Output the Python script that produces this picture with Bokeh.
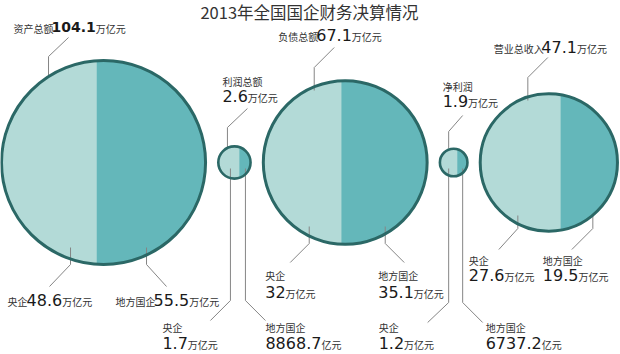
import numpy as np
from bokeh.plotting import figure
from bokeh.models import Range1d, ColumnDataSource
from bokeh.embed import file_html
from bokeh.resources import INLINE
from bokeh.core.properties import value

# ---------------- data ----------------
title_text = "2013年全国国企财务决算情况"
metrics = ["资产总额", "利润总额", "负债总额", "净利润", "营业总收入"]
totals = [104.1, 2.6, 67.1, 1.9, 47.1]          # 万亿元
total_units = ["万亿元", "万亿元", "万亿元", "万亿元", "万亿元"]
central_name = "央企"
local_name = "地方国企"
central_vals = [48.6, 1.7, 32, 1.2, 27.6]
central_units = ["万亿元", "万亿元", "万亿元", "万亿元", "万亿元"]
local_vals = [55.5, 8868.7, 35.1, 6737.2, 19.5]
local_units = ["万亿元", "亿元", "万亿元", "亿元", "万亿元"]

# ---------------- style / layout ----------------
W, H = 620, 354
K = 10.0            # px per sqrt(万亿元) -> area-proportional radii
GAP = 12.75
X0 = 1.0
CY = 162.0
LIGHT = "#b3dad7"
DARK = "#64b7ba"
EDGE = "#2b6866"
LEADER = "#858585"
CJK_FONT = "Noto Sans CJK SC"
NUM_FONT = "DejaVu Sans"
CJK_SIZE = 10.0
NUM_SIZE = 16.0
BOLD_SIZE = 14.0

# label blocks (relative to circle centre): kind, dx, dy line1 baseline, dy line2 baseline
top_layout = [("one", -90, -130, None, True), ("two", -12, -77, -61, False),
              ("one", -67, -122, None, False), ("two", -11, -72, -56, False),
              ("one", -55, -109.5, None, False)]
bl_layout = [("one", -96, 143, None), ("two", -72, 169.5, 186), ("two", -80, 117, 135),
             ("two", -75, 169.5, 186), ("two", -80, 102, 118.5)]
br_layout = [("one", 12, 143, None), ("two", 31, 169.5, 186), ("two", 33, 117, 135),
             ("two", 32, 169.5, 186), ("two", -6, 102, 118.5)]
top_leaders = [[(-35, -125), (-55, -106), (-55, -86)], [(13, -54), (-7, -35), (-7, -15)],
               [(-11, -115), (-31, -95), (-31, -72)], [(9, -47), (-5, -31), (-5, -14)],
               [(-1, -105), (-21, -85), (-21, -62)]]
bl_leaders = [[(-33, 85), (-33, 102), (-54, 124)], [(-4, 6), (-4, 138), (-24, 158)],
              [(-36, 64), (-36, 81), (-55, 100)], [(-5, 6), (-5, 140), (-26, 160)],
              [(-31, 53), (-31, 66), (-50, 87)]]
br_leaders = [[(43, 85), (43, 102), (63, 124)], [(11, 6), (11, 138), (31, 158)],
              [(40, 64), (40, 81), (59, 100)], [(9, 6), (9, 140), (29, 160)],
              [(44, 53), (44, 66), (23, 87)]]

def fmt(v):
    return f"{v:g}"

# geometry derived from data
radii = [K * np.sqrt(t) for t in totals]
cxs = []
x = X0
for r in radii:
    cxs.append(x + r)
    x += 2 * r + GAP
cys = [CY] * len(totals)
fracs = [c / t for c, t in zip(central_vals, totals)]

p = figure(width=W, height=H, x_range=Range1d(0, W), y_range=Range1d(H, 0),
           output_backend="svg", toolbar_location=None, min_border=0,
           background_fill_color="white", border_fill_color="white")
p.axis.visible = False
p.grid.visible = False
p.outline_line_color = None

# full circles (dark = local)
p.circle(cxs, cys, radius=radii, fill_color=DARK, line_color=None)

# light segments (central), split position proportional to share
seg_x, seg_y = [], []
for cx, cy, r, f in zip(cxs, cys, radii, fracs):
    sx = cx - r + 2 * r * f
    th = np.arccos((sx - cx) / r)
    a = np.linspace(th, 2 * np.pi - th, 120)
    seg_x.append(list(cx + r * np.cos(a)))
    seg_y.append(list(cy + r * np.sin(a)))
p.patches(seg_x, seg_y, fill_color=LIGHT, line_color=None)

# leaders
lx, ly = [], []
for i in range(len(totals)):
    for pts in (top_leaders[i], bl_leaders[i], br_leaders[i]):
        lx.append([cxs[i] + a for a, b in pts])
        ly.append([cys[i] + b for a, b in pts])
p.multi_line(lx, ly, line_color=LEADER, line_width=1)

# outlines
p.circle(cxs, cys, radius=radii, fill_color=None, line_color=EDGE,
         line_width=[3 if r > 30 else 2.6 for r in radii])

# text pieces (y given as glyph centre; derived from baseline)
cjk = dict(x=[], y=[], text=[])
num = dict(x=[], y=[], text=[])
bold = dict(x=[], y=[], text=[])
CENTER_SHIFT = {"cjk": 0.43 * CJK_SIZE, "num": 0.36 * NUM_SIZE, "bold": 0.36 * BOLD_SIZE}

def width(s, kind):
    if kind == "cjk":
        return len(s) * CJK_SIZE * 0.95
    size = BOLD_SIZE if kind == "bold" else NUM_SIZE
    dw = 0.696 if kind == "bold" else 0.636
    pw = 0.38 if kind == "bold" else 0.318
    return sum((pw if ch == "." else dw) * size for ch in s)

def put(pieces, x, y):
    for s, kind in pieces:
        d = {"cjk": cjk, "num": num, "bold": bold}[kind]
        d["x"].append(x)
        d["y"].append(y - CENTER_SHIFT[kind])
        d["text"].append(s)
        x += width(s, kind)

def block(layout, cx, cy, name, val, unit, numkind="num"):
    kind, dx, dy1, dy2 = layout[:4]
    if kind == "one":
        put([(name, "cjk"), (fmt(val), numkind), (unit, "cjk")], cx + dx, cy + dy1)
    else:
        put([(name, "cjk")], cx + dx, cy + dy1)
        put([(fmt(val), numkind), (unit, "cjk")], cx + dx, cy + dy2)

for i in range(len(totals)):
    cx, cy = cxs[i], cys[i]
    block(top_layout[i], cx, cy, metrics[i], totals[i], total_units[i],
          "bold" if top_layout[i][4] else "num")
    block(bl_layout[i], cx, cy, central_name, central_vals[i], central_units[i])
    block(br_layout[i], cx, cy, local_name, local_vals[i], local_units[i])

p.text(x="x", y="y", text="text", source=ColumnDataSource(cjk),
       text_font=value(CJK_FONT), text_font_size=f"{CJK_SIZE}px",
       text_color="#333333", text_baseline="middle", text_align="left")
p.text(x="x", y="y", text="text", source=ColumnDataSource(num),
       text_font=value(NUM_FONT), text_font_size=f"{NUM_SIZE}px",
       text_color="#1a1a1a", text_baseline="middle", text_align="left")
p.text(x="x", y="y", text="text", source=ColumnDataSource(bold),
       text_font=value(NUM_FONT), text_font_size=f"{BOLD_SIZE}px", text_font_style="bold",
       text_color="#1a1a1a", text_baseline="middle", text_align="left")

# title
p.text(x=[309], y=[11.5], text=[title_text], text_font=value(CJK_FONT),
       text_font_size="16.5px", text_color="#333333",
       text_baseline="middle", text_align="center")

open("out.html", "w").write(file_html(p, INLINE))
